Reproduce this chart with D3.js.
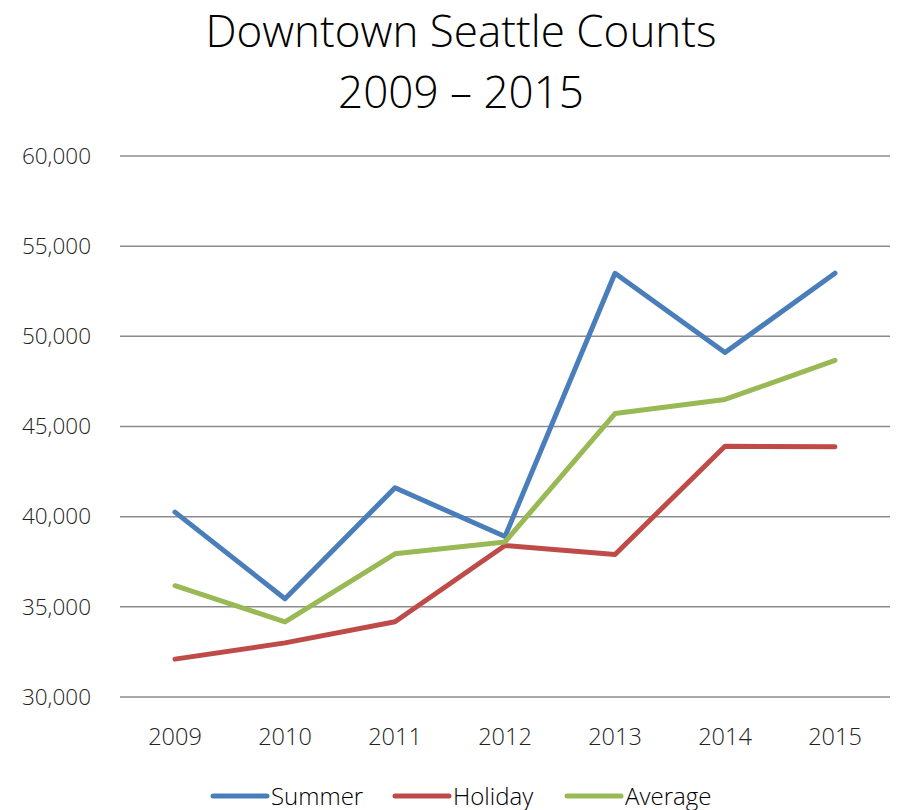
<!DOCTYPE html>
<html>
<head>
<meta charset="utf-8">
<script src="https://cdn.jsdelivr.net/npm/d3@7"></script>
<style>
  body { margin: 0; background: #fff; }
  text { font-family: "Open Sans", "Noto Sans", sans-serif; }
</style>
</head>
<body>
<div id="chart"></div>
<script>
// Chart data
var years = ["2009", "2010", "2011", "2012", "2013", "2014", "2015"];
var summer = [40250, 35450, 41600, 38900, 53500, 49100, 53500];
var holiday = [32100, 33000, 34170, 38400, 37900, 43900, 43880];
var average = [36170, 34170, 37940, 38600, 45720, 46500, 48670];
var yTicks = [30000, 35000, 40000, 45000, 50000, 55000, 60000];
var seriesNames = ["Summer", "Holiday", "Average"];
var colors = ["#4a7ebb", "#be4b48", "#98b954"];

var width = 901, height = 810;

var svg = d3.select("#chart")
    .append("svg")
    .attr("width", width)
    .attr("height", height);

// Title
svg.append("text")
    .attr("x", 461).attr("y", 47)
    .attr("text-anchor", "middle")
    .attr("font-size", "44px")
    .attr("font-weight", 300)
    .attr("fill", "#000")
    .text("Downtown Seattle Counts");
svg.append("text")
    .attr("x", 461).attr("y", 108)
    .attr("text-anchor", "middle")
    .attr("font-size", "44px")
    .attr("font-weight", 300)
    .attr("fill", "#000")
    .text("2009 \u2013 2015");

// Scales
var x = d3.scaleBand().domain(years).range([120, 890]);
var y = d3.scaleLinear().domain([30000, 60000]).range([697, 156]);

// Gridlines
svg.append("g")
    .selectAll("line")
    .data(yTicks)
    .enter().append("line")
    .attr("x1", 120).attr("x2", 890)
    .attr("y1", function (d) { return y(d); })
    .attr("y2", function (d) { return y(d); })
    .attr("stroke", "#8c8c8c")
    .attr("stroke-width", 1.5);

// Y axis labels
var yAxis = svg.append("g")
    .attr("transform", "translate(91,0)")
    .call(d3.axisLeft(y).tickValues(yTicks).tickSize(0).tickPadding(0)
        .tickFormat(d3.format(",")));
yAxis.select(".domain").remove();
yAxis.selectAll("text")
    .attr("font-family", "'Open Sans', sans-serif")
    .attr("font-size", "22.5px")
    .attr("font-weight", 300)
    .attr("fill", "#222");

// X axis labels
var xAxis = svg.append("g")
    .attr("transform", "translate(0,697)")
    .call(d3.axisBottom(x).tickSize(0).tickPadding(31));
xAxis.select(".domain").remove();
xAxis.selectAll("text")
    .attr("font-family", "'Open Sans', sans-serif")
    .attr("font-size", "23.5px")
    .attr("font-weight", 300)
    .attr("fill", "#222");

// Lines
var line = d3.line()
    .x(function (d, i) { return x(years[i]) + x.bandwidth() / 2; })
    .y(function (d) { return y(d); });

[summer, holiday, average].forEach(function (values, i) {
    svg.append("path")
        .datum(values)
        .attr("fill", "none")
        .attr("stroke", colors[i])
        .attr("stroke-width", 5)
        .attr("stroke-linejoin", "round")
        .attr("stroke-linecap", "round")
        .attr("d", line);
});

// Legend
var legendX = [213, 395, 567];
var legend = svg.append("g")
    .selectAll("g")
    .data(seriesNames)
    .enter().append("g")
    .attr("transform", function (d, i) { return "translate(" + legendX[i] + ",796)"; });
legend.append("line")
    .attr("x1", 0).attr("x2", 54)
    .attr("stroke", function (d, i) { return colors[i]; })
    .attr("stroke-width", 5)
    .attr("stroke-linecap", "round");
legend.append("text")
    .attr("x", 58).attr("y", 9)
    .attr("font-size", "24px")
    .attr("font-weight", 300)
    .attr("fill", "#000")
    .text(function (d) { return d; });
</script>
</body>
</html>
